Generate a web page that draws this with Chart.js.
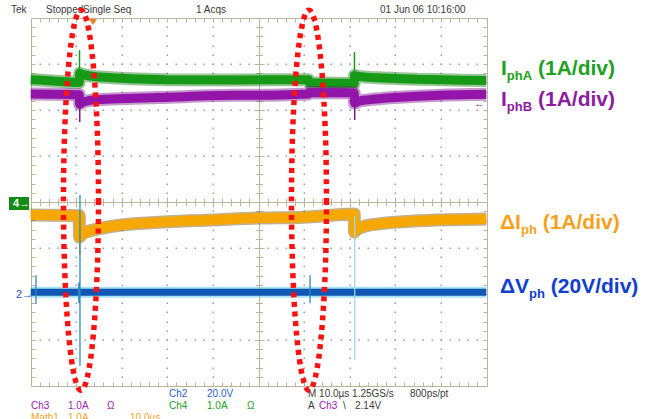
<!DOCTYPE html>
<html><head><meta charset="utf-8">
<script src="https://cdn.jsdelivr.net/npm/chart.js@4"></script>
<style>
html,body{margin:0;padding:0;background:#fff;}
#wrap{position:relative;width:645px;height:419px;overflow:hidden;background:#fff;}
.t{position:absolute;font:10px 'Liberation Sans',Arial,sans-serif;line-height:10px;white-space:nowrap;color:#3a3a3a}
.lbl{position:absolute;font:bold 21px 'Liberation Sans',Arial,sans-serif;line-height:21px;white-space:nowrap}
.lbl span{font-size:13px;position:relative;top:5px}
canvas{position:absolute;left:0;top:0}
</style></head>
<body><div id="wrap">
<div class="t" style="left:11px;top:5px">Tek</div>
<div class="t" style="left:46px;top:5px">Stopped</div>
<div class="t" style="left:83px;top:5px">Single Seq</div>
<div class="t" style="left:196px;top:5px">1 Acqs</div>
<div class="t" style="left:380px;top:5px">01 Jun 06 10:16:00</div>

<div class="t" style="left:169px;top:389px;color:#2a5fc8">Ch2</div>
<div class="t" style="left:207px;top:389px;color:#2a5fc8">20.0V</div>
<div class="t" style="left:308px;top:389px">M 10.0µs 1.25GS/s</div>
<div class="t" style="left:410px;top:389px">800ps/pt</div>

<div class="t" style="left:31px;top:401px;color:#a020b0">Ch3</div>
<div class="t" style="left:68px;top:401px;color:#a020b0">1.0A</div>
<div class="t" style="left:107px;top:401px;color:#a020b0">Ω</div>
<div class="t" style="left:169px;top:401px;color:#22a022">Ch4</div>
<div class="t" style="left:207px;top:401px;color:#22a022">1.0A</div>
<div class="t" style="left:247px;top:401px;color:#22a022">Ω</div>
<div class="t" style="left:308px;top:401px">A</div>
<div class="t" style="left:319px;top:401px;color:#a020b0">Ch3</div>
<div class="t" style="left:343px;top:401px">\</div>
<div class="t" style="left:355px;top:401px">2.14V</div>

<div class="t" style="left:31px;top:413px;color:#f0a020">Math1</div>
<div class="t" style="left:68px;top:413px;color:#f0a020">1.0A</div>
<div class="t" style="left:130px;top:413px;color:#f0a020">10.0µs</div>

<div class="lbl" style="left:501px;top:57px;color:#22a022">I<span>phA</span> (1A/div)</div>
<div class="lbl" style="left:501px;top:88px;color:#8c1c9e">I<span>phB</span> (1A/div)</div>
<div class="lbl" style="left:500px;top:211px;color:#f8a01c">ΔI<span>ph</span> (1A/div)</div>
<div class="lbl" style="left:500px;top:275px;color:#1040d0">ΔV<span>ph</span> (20V/div)</div>

<div style="position:absolute;left:9px;top:197px;width:20px;height:13px;background:#148c14;color:#fff;font:bold 11px 'Liberation Sans',Arial;line-height:13px;text-indent:4px">4→</div>
<div class="t" style="left:16px;top:289px;color:#2050c0;font-size:11px">2→</div>
<div class="t" style="left:474px;top:98px;color:#9a1aae;font-size:11px">←</div>

<canvas id="c" width="645" height="419"></canvas>
</div>
<script>
// time axis: 0..100 µs (10 µs/div), vertical: -4..4 div
const iphA_t = [0, 5, 10.7, 10.75, 11.5, 13, 16, 22, 30, 45, 61.0, 61.1, 71.0, 71.05, 72, 76, 85, 100];
const iphA_v = [2.66, 2.63, 2.60, 2.80, 2.77, 2.74, 2.71, 2.68, 2.66, 2.65, 2.66, 2.59, 2.58, 2.75, 2.73, 2.70, 2.67, 2.64];

const iphB_t = [0, 10.7, 10.75, 11.5, 13, 18, 28, 45, 61, 61.1, 71.0, 71.05, 72, 74, 80, 90, 100];
const iphB_v = [2.35, 2.33, 2.13, 2.17, 2.21, 2.24, 2.27, 2.32, 2.35, 2.38, 2.37, 2.15, 2.19, 2.22, 2.27, 2.32, 2.34];

const dIph_t = [0, 10.7, 10.75, 11.2, 12, 14.6, 20, 30, 40, 50, 60, 71.0, 71.05, 71.5, 72.5, 76, 85, 100];
const dIph_v = [-0.28, -0.30, -0.76, -0.71, -0.66, -0.59, -0.50, -0.43, -0.39, -0.35, -0.33, -0.26, -0.65, -0.60, -0.55, -0.48, -0.41, -0.37];

const dVph_t = [0, 20, 40, 60, 80, 100];
const dVph_v = [-1.96, -1.96, -1.96, -1.96, -1.96, -1.96];

// spikes: [time, from, to]
const iphA_spikes = [[10.75, 2.62, 3.30], [71.05, 2.58, 3.26]];
const iphB_spikes = [[10.8, 2.30, 1.74], [71.1, 2.35, 1.78]];
const dIph_spikes = [[10.8, -0.6, -1.15], [71.1, -0.5, -0.83]];
const dVph_spikes = [[1.2, -1.59, -2.22], [10.6, -1.75, -2.2], [10.85, 0.15, -3.56], [61.3, -1.59, -2.2]];
const dVph_faint = [[71.1, -0.3, -3.43]];

// highlight rings: centre time (µs), centre level (div), half width (µs), half height (div)
const ring_t = [11.07, 61.07];
const ring_y = [0.04, 0.04];
const ring_w = [3.84, 3.84];
const ring_h = [4.13, 4.13];

function pts(t, v){ return t.map((x,i)=>({x, y:v[i]})); }
function spk(list){ const o=[]; list.forEach(s=>{o.push({x:s[0],y:s[1]});o.push({x:s[0],y:s[2]});o.push({x:s[0],y:null});}); return o; }

function ds(data, color, width, order, smooth){
  return {data, borderColor:color, borderWidth:width, pointRadius:0, fill:false,
          tension:0, cubicInterpolationMode: smooth ? 'monotone' : 'default',
          spanGaps:false, order, borderJoinStyle:'bevel', borderCapStyle:'butt'};
}

const graticule = {
  id:'graticule',
  beforeDatasetsDraw(chart){
    const {ctx, scales:{x, y}} = chart;
    const L=Math.round(x.getPixelForValue(0))+0.5, R=Math.round(x.getPixelForValue(100))+0.5;
    const T=Math.round(y.getPixelForValue(4))+0.5, B=Math.round(y.getPixelForValue(-4))+0.5;
    const CX=Math.round(x.getPixelForValue(50))+0.5, CY=Math.round(y.getPixelForValue(0))+0.5;
    ctx.save();
    ctx.fillStyle='#9c9c9c';
    for(let d=1; d<10; d++){ if(d===5) continue;
      const px=Math.round(x.getPixelForValue(d*10));
      for(let m=1;m<40;m++){ const py=Math.round(y.getPixelForValue(4-m*0.2)); ctx.fillRect(px-0.5,py-0.5,1.5,1.5); }
    }
    for(let d=-3; d<=3; d++){ if(d===0) continue;
      const py=Math.round(y.getPixelForValue(d));
      for(let m=1;m<50;m++){ const px=Math.round(x.getPixelForValue(m*2)); ctx.fillRect(px-0.5,py-0.5,1.5,1.5); }
    }
    ctx.strokeStyle='#bcb399'; ctx.lineWidth=1;
    ctx.beginPath();
    ctx.rect(L,T,R-L,B-T);
    ctx.moveTo(CX,T); ctx.lineTo(CX,B);
    ctx.moveTo(L,CY); ctx.lineTo(R,CY);
    for(let m=1;m<50;m++){
      const px=Math.round(x.getPixelForValue(m*2))+0.5;
      const big = m%5===0 ? 5 : 3.5;
      ctx.moveTo(px,T); ctx.lineTo(px,T+4);
      ctx.moveTo(px,B); ctx.lineTo(px,B-4);
      ctx.moveTo(px,CY-big); ctx.lineTo(px,CY+big);
    }
    for(let m=1;m<40;m++){
      const py=Math.round(y.getPixelForValue(4-m*0.2))+0.5;
      const big = m%5===0 ? 5 : 3.5;
      ctx.moveTo(L,py); ctx.lineTo(L+4,py);
      ctx.moveTo(R,py); ctx.lineTo(R-4,py);
      ctx.moveTo(CX-big,py); ctx.lineTo(CX+big,py);
    }
    ctx.stroke();
    ctx.restore();
  },
  afterDraw(chart){
    const {ctx, scales:{x, y}} = chart;
    ctx.save();
    // trigger marker
    const tx = x.getPixelForValue(13.7), ty = y.getPixelForValue(4);
    ctx.fillStyle='#f08020';
    ctx.beginPath(); ctx.moveTo(tx-4,ty+1); ctx.lineTo(tx+4,ty+1); ctx.lineTo(tx,ty+7); ctx.closePath(); ctx.fill();
    // rings
    ctx.strokeStyle='#ff1010'; ctx.lineWidth=5.5; ctx.setLineDash([5,4.6]);
    ring_t.forEach((t,i)=>{
      const cx=x.getPixelForValue(t), cy=y.getPixelForValue(ring_y[i]);
      const rx=Math.abs(x.getPixelForValue(t+ring_w[i])-cx), ry=Math.abs(y.getPixelForValue(ring_y[i]+ring_h[i])-cy);
      ctx.beginPath(); ctx.ellipse(cx,cy,rx,ry,0,0,Math.PI*2); ctx.stroke();
    });
    ctx.restore();
  }
};

new Chart(document.getElementById('c'), {
  type:'line',
  data:{datasets:[
    ds(spk(dVph_faint), '#9fd6ea', 1.3, 1, false),
    ds(spk(dVph_spikes), '#2a8cc0', 1.3, 2, false),
    ds(spk(dIph_spikes), '#f0a000', 1.5, 3, false),
    ds(spk(iphA_spikes), '#1a9a1a', 1.5, 4, false),
    ds(spk(iphB_spikes), '#8a10a0', 1.5, 5, false),
    ds(pts(dIph_t,dIph_v), '#f7a800', 10, 6, true),
    ds(pts(dIph_t,dIph_v), 'rgba(120,80,0,0.45)', 13, 7, true),
    ds(pts(dVph_t,dVph_v), '#1256b4', 7, 8, false),
    ds(pts(dVph_t,dVph_v), 'rgba(60,190,230,0.45)', 11, 9, false),
    ds(pts(iphB_t,iphB_v), '#9214a8', 9, 10, true),
    ds(pts(iphB_t,iphB_v), 'rgba(110,0,130,0.4)', 13, 11, true),
    ds(pts(iphA_t,iphA_v), '#169a16', 9, 12, true),
    ds(pts(iphA_t,iphA_v), 'rgba(0,110,0,0.4)', 13, 13, true)
  ]},
  options:{
    responsive:false, animation:false, events:[],
    layout:{padding:{left:30.5, right:158.5, top:18, bottom:33}},
    plugins:{legend:{display:false}, tooltip:{enabled:false}},
    scales:{
      x:{type:'linear', min:0, max:100, display:false},
      y:{type:'linear', min:-4, max:4, display:false}
    }
  },
  plugins:[graticule]
});
</script>
</body></html>
